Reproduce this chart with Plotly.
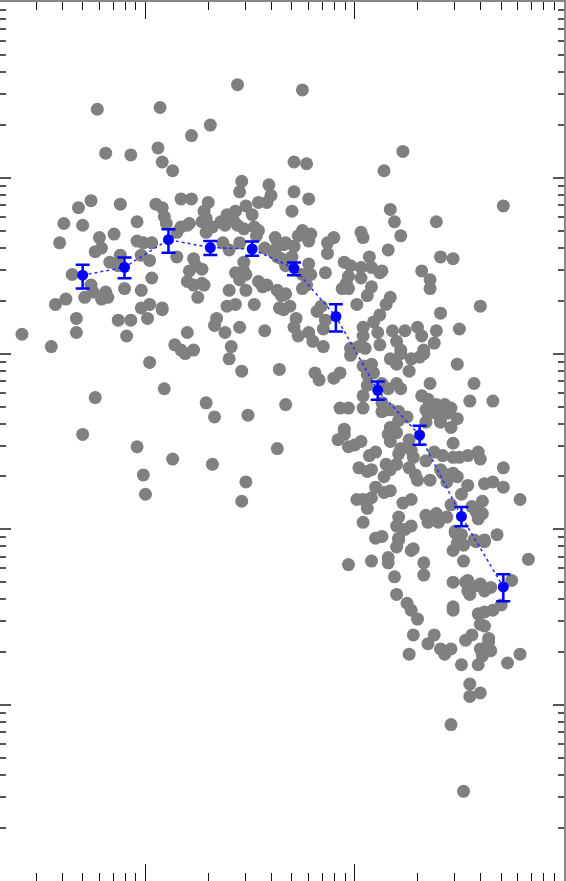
import numpy as np
import plotly.graph_objects as go

# individual objects, (log10 x, log10 y)
scatter_log_xy = [
    (0.44, 0.53), (-0.23, 0.39), (0.07, 0.40), (0.31, 0.30), (0.22, 0.24), (-0.19, 0.14), (-0.07, 0.13), (0.06, 0.17), (0.08, 0.09), (0.13, 0.04),
    (0.46, -0.02), (0.45, -0.08), (0.59, -0.04), (0.60, -0.10), (0.58, -0.14), (0.54, -0.14), (0.48, -0.16), (0.17, -0.12), (0.22, -0.12), (0.30, -0.14),
    (-0.32, -0.17), (-0.26, -0.13), (-0.12, -0.15), (0.05, -0.15), (0.08, -0.17), (0.09, -0.22), (0.10, -0.26), (-0.39, -0.26), (-0.30, -0.27), (-0.04, -0.25),
    (0.28, -0.19), (0.29, -0.23), (0.27, -0.25), (0.32, -0.28), (0.29, -0.31), (0.36, -0.25), (0.39, -0.21), (0.43, -0.19), (0.38, -0.27), (0.42, -0.24),
    (0.44, -0.27), (0.47, -0.29), (0.51, -0.21), (0.52, -0.28), (0.54, -0.30), (0.53, -0.33), (0.62, -0.34), (0.66, -0.38), (0.67, -0.37), (-0.41, -0.37),
    (-0.22, -0.34), (-0.15, -0.32), (-0.21, -0.40), (-0.24, -0.42), (-0.04, -0.36), (-0.01, -0.37), (0.03, -0.37), (0.15, -0.31), (0.17, -0.28), (0.20, -0.27),
    (0.21, -0.26), (0.15, -0.45), (0.02, -0.47), (-0.02, -0.44), (-0.17, -0.48), (-0.13, -0.50), (-0.12, -0.44), (0.37, -0.37), (0.40, -0.41), (0.45, -0.37),
    (0.57, -0.40), (0.61, -0.42), (0.63, -0.45), (0.65, -0.46), (0.63, -0.39), (0.23, -0.46), (0.24, -0.50), (0.21, -0.53), (0.27, -0.52), (0.47, -0.48),
    (0.47, -0.53), (0.43, -0.54), (0.45, -0.58), (0.48, -0.55), (-0.35, -0.55), (-0.26, -0.61), (-0.25, -0.65), (-0.21, -0.69), (-0.19, -0.65), (-0.18, -0.68),
    (-0.29, -0.68), (-0.43, -0.72), (-0.38, -0.69), (0.03, -0.57), (0.20, -0.59), (0.23, -0.61), (0.27, -0.60), (0.28, -0.61), (-0.10, -0.63), (-0.02, -0.64),
    (0.25, -0.68), (0.40, -0.64), (0.48, -0.64), (0.54, -0.59), (0.58, -0.61), (0.56, -0.62), (0.63, -0.64), (0.65, -0.67), (0.67, -0.66), (-0.02, -0.74),
    (0.02, -0.72), (0.08, -0.74), (0.08, -0.75), (0.39, -0.73), (0.43, -0.72), (0.52, -0.72), (0.64, -0.74), (0.66, -0.75), (-0.33, -0.80), (-0.33, -0.88),
    (-0.13, -0.81), (-0.07, -0.81), (0.01, -0.80), (0.34, -0.80), (0.33, -0.84), (0.38, -0.88), (0.45, -0.85), (0.57, -0.87), (0.20, -0.88), (-0.09, -0.90),
    (-0.59, -0.89), (-0.45, -0.96), (0.14, -0.95), (0.17, -0.98), (0.23, -0.98), (0.41, -0.96), (0.19, -1.00),
    (0.02, -1.05), (0.40, -1.03), (0.46, -1.10), (0.64, -1.09), (0.09, -1.20), (-0.24, -1.25), (0.29, -1.28), (0.33, -1.36), (0.49, -1.35), (0.67, -1.29),
    (-0.30, -1.46), (-0.04, -1.53), (0.13, -1.60), (0.32, -1.63), (0.63, -1.54), (-0.01, -1.69), (0.00, -1.80), (0.48, -1.73), (0.46, -1.84),
    (0.75, 0.50), (1.23, 0.15), (0.71, 0.09), (0.77, 0.08), (1.14, 0.04), (0.71, -0.08), (0.78, -0.12), (0.70, -0.19), (1.17, -0.18), (1.19, -0.25),
    (1.39, -0.25), (1.71, -0.16), (0.75, -0.30), (0.79, -0.32), (0.73, -0.33), (0.78, -0.36), (0.71, -0.39), (1.03, -0.31), (1.04, -0.34), (0.90, -0.34),
    (0.87, -0.37), (0.87, -0.43), (1.22, -0.33), (1.16, -0.41), (1.07, -0.45), (1.41, -0.45), (1.47, -0.46), (0.70, -0.45), (0.67, -0.50), (0.78, -0.49),
    (0.79, -0.55), (0.75, -0.55), (0.86, -0.54), (0.95, -0.48), (0.98, -0.50), (0.97, -0.56), (1.03, -0.51), (1.03, -0.57), (1.08, -0.51), (1.12, -0.54),
    (1.13, -0.53), (0.94, -0.63), (0.97, -0.63), (0.96, -0.60), (1.08, -0.62), (1.06, -0.67), (1.32, -0.53), (1.36, -0.58), (1.36, -0.63), (0.75, -0.63),
    (0.77, -0.61), (0.69, -0.73), (0.82, -0.76), (0.84, -0.73), (0.86, -0.81), (0.85, -0.86), (0.72, -0.80), (0.71, -0.85), (0.73, -0.90), (0.78, -0.88),
    (0.80, -0.93), (0.85, -0.96), (1.01, -0.72), (1.04, -0.85), (1.04, -0.90), (1.02, -0.96), (1.05, -0.97), (0.98, -0.97), (1.09, -0.82), (1.12, -0.78),
    (1.11, -0.88), (1.12, -0.95), (1.15, -0.72), (1.17, -0.68), (1.18, -0.87), (1.20, -0.93), (1.24, -0.87), (1.22, -0.98), (1.30, -0.85), (1.32, -0.90),
    (1.39, -0.87), (1.38, -0.94), (1.33, -0.98), (1.41, -0.77), (1.50, -0.86), (1.60, -0.73),
    (0.81, -1.11), (0.83, -1.15), (0.90, -1.14), (0.93, -1.11), (0.98, -1.01), (1.04, -1.07), (1.08, -1.06), (1.06, -1.12), (1.09, -1.11), (1.06, -1.18),
    (1.04, -1.24), (1.13, -1.17), (1.16, -1.20), (1.20, -1.17), (1.22, -1.20), (1.17, -1.03), (1.20, -1.06), (1.22, -1.00), (1.27, -1.03), (1.31, -1.02),
    (1.33, -1.00), (1.26, -1.10), (1.49, -1.06), (1.36, -1.17), (1.57, -1.17), (0.93, -1.31), (0.97, -1.31), (1.04, -1.31), (1.13, -1.28), (1.13, -1.33),
    (1.17, -1.32), (1.21, -1.33), (1.25, -1.36), (1.21, -1.38), (1.32, -1.24), (1.35, -1.26), (1.39, -1.29), (1.43, -1.29), (1.46, -1.31), (1.34, -1.32),
    (1.35, -1.34), (1.39, -1.34), (1.44, -1.34), (1.49, -1.37), (1.34, -1.39), (1.41, -1.39), (1.46, -1.42), (1.55, -1.27), (1.66, -1.27), (1.17, -1.42),
    (1.16, -1.46), (1.17, -1.50), (1.20, -1.45), (1.26, -1.49), (0.95, -1.43), (0.95, -1.46), (0.92, -1.49), (0.97, -1.53), (1.00, -1.52), (1.03, -1.50),
    (1.47, -1.51), (1.22, -1.54), (1.27, -1.55), (1.38, -1.56), (1.42, -1.58), (1.47, -1.59), (1.50, -1.59), (1.54, -1.58), (1.59, -1.56), (1.60, -1.60),
    (1.07, -1.58), (1.10, -1.56), (1.21, -1.57), (1.28, -1.59), (1.34, -1.61), (1.15, -1.63), (1.17, -1.66), (1.14, -1.70), (1.20, -1.63), (1.02, -1.65),
    (1.06, -1.67), (1.08, -1.66), (1.26, -1.65), (1.29, -1.69), (1.30, -1.72), (1.36, -1.72), (1.41, -1.66), (1.42, -1.68), (1.44, -1.69), (1.47, -1.68),
    (1.49, -1.70), (1.44, -1.73), (1.71, -1.65), (1.62, -1.74), (1.66, -1.73), (1.71, -1.76), (1.54, -1.75), (1.51, -1.80), (1.10, -1.76), (1.14, -1.79),
    (1.17, -1.78), (1.01, -1.83), (1.04, -1.83), (1.08, -1.82), (1.06, -1.88), (1.04, -1.96), (1.23, -1.85), (1.27, -1.83), (1.79, -1.83), (1.61, -1.84),
    (1.56, -1.87), (1.58, -1.90), (1.61, -1.91), (1.59, -1.94), (1.46, -1.86), (1.34, -1.92), (1.39, -1.91), (1.40, -1.96), (1.35, -1.96), (1.44, -1.93),
    (1.21, -1.93), (1.20, -1.98), (1.24, -2.00), (1.27, -1.98), (1.48, -2.01), (1.50, -2.03), (1.57, -2.06), (1.62, -2.06), (1.68, -2.03), (1.10, -2.05),
    (1.13, -2.04), (1.21, -2.05),
    (1.21, -2.06), (1.20, -2.10), (1.27, -2.12), (1.28, -2.11), (1.48, -2.02), (1.51, -2.03), (1.49, -2.08), (1.52, -2.09), (1.47, -2.12), (1.58, -2.07),
    (1.62, -2.07), (0.97, -2.20), (1.08, -2.18), (1.16, -2.16), (1.16, -2.19), (1.33, -2.19), (1.52, -2.18), (1.83, -2.17), (1.19, -2.27), (1.33, -2.26),
    (1.47, -2.30), (1.53, -2.30), (1.54, -2.29), (1.54, -2.35), (1.55, -2.37), (1.59, -2.32), (1.60, -2.31), (1.62, -2.35), (1.65, -2.33), (1.75, -2.29),
    (1.70, -2.43), (1.66, -2.46), (1.20, -2.37), (1.25, -2.42), (1.27, -2.46), (1.30, -2.51), (1.47, -2.44), (1.47, -2.46), (1.59, -2.48), (1.62, -2.47),
    (1.60, -2.54), (1.62, -2.55), (1.28, -2.60), (1.38, -2.60), (1.35, -2.65), (1.41, -2.68), (1.43, -2.71), (1.46, -2.68), (1.26, -2.71), (1.53, -2.63),
    (1.56, -2.60), (1.64, -2.62), (1.64, -2.64), (1.60, -2.68), (1.61, -2.72), (1.65, -2.69), (1.79, -2.71), (1.73, -2.76), (1.51, -2.77), (1.59, -2.77),
    (1.55, -2.88), (1.55, -2.95), (1.60, -2.93), (1.46, -3.11), (1.52, -3.49),
]

# binned means with error bars (log10)
bin_log_x = [-0.30, -0.10, 0.11, 0.31, 0.51, 0.71, 0.91, 1.11, 1.31, 1.51, 1.71]
bin_log_y = [-0.554, -0.509, -0.352, -0.397, -0.405, -0.515, -0.789, -1.209, -1.463, -1.926, -2.327]
bin_log_hi = [-0.495, -0.454, -0.293, -0.359, -0.363, -0.482, -0.719, -1.159, -1.411, -1.873, -2.255]
bin_log_lo = [-0.630, -0.571, -0.426, -0.439, -0.444, -0.554, -0.874, -1.262, -1.519, -1.982, -2.408]

x_range_log = [-0.695, 2.0]
y_range_log = [-4.0, 1.0]

pts = np.array(scatter_log_xy)
sx = 10 ** pts[:, 0]
sy = 10 ** pts[:, 1]

bx = 10 ** np.array(bin_log_x)
by = 10 ** np.array(bin_log_y)
err_plus = 10 ** np.array(bin_log_hi) - by
err_minus = by - 10 ** np.array(bin_log_lo)

# tick positions for log axes
x_major = [1, 10, 100]
x_minor = [m * d for d in [0.1, 1, 10] for m in range(2, 10)]
y_major = [10.0 ** k for k in range(-4, 2)]
y_minor = [m * 10.0 ** k for k in range(-4, 1) for m in range(2, 10)]

fig = go.Figure()

fig.add_trace(go.Scatter(
    x=sx, y=sy, mode='markers',
    marker=dict(size=13, color='#808080', line=dict(width=0)),
    hoverinfo='skip', showlegend=False
))

fig.add_trace(go.Scatter(
    x=bx, y=by, mode='lines+markers',
    line=dict(color='#2a2aff', width=1.5, dash='dot'),
    marker=dict(size=11, color='#0000ff'),
    error_y=dict(type='data', array=err_plus, arrayminus=err_minus,
                 color='#0000ff', thickness=2.5, width=7),
    showlegend=False
))

fig.update_xaxes(
    type='log', range=x_range_log,
    showgrid=False, zeroline=False, showticklabels=False,
    showline=True, linecolor='#888888', linewidth=2, mirror='ticks',
    ticks='inside', tickvals=x_major, ticklen=17, tickwidth=1.3, tickcolor='#111111',
    minor=dict(tickvals=x_minor, ticks='inside', ticklen=8, tickwidth=1.3, tickcolor='#111111')
)
fig.update_yaxes(
    type='log', range=y_range_log,
    showgrid=False, zeroline=False, showticklabels=False,
    showline=True, linecolor='#888888', linewidth=2, mirror='ticks',
    ticks='inside', tickvals=y_major, ticklen=11, tickwidth=1.5, tickcolor='#555555',
    minor=dict(tickvals=y_minor, ticks='inside', ticklen=6, tickwidth=1.5, tickcolor='#555555')
)

fig.update_layout(
    width=566, height=881,
    margin=dict(l=0, r=0, t=0, b=0),
    plot_bgcolor='white', paper_bgcolor='white',
    showlegend=False
)

# page body has a default margin; drop it so the frame sits at the window edge
fig.write_html("out.html", config={'displayModeBar': False},
               post_script="document.body.style.margin='0';document.body.style.overflow='hidden';")
